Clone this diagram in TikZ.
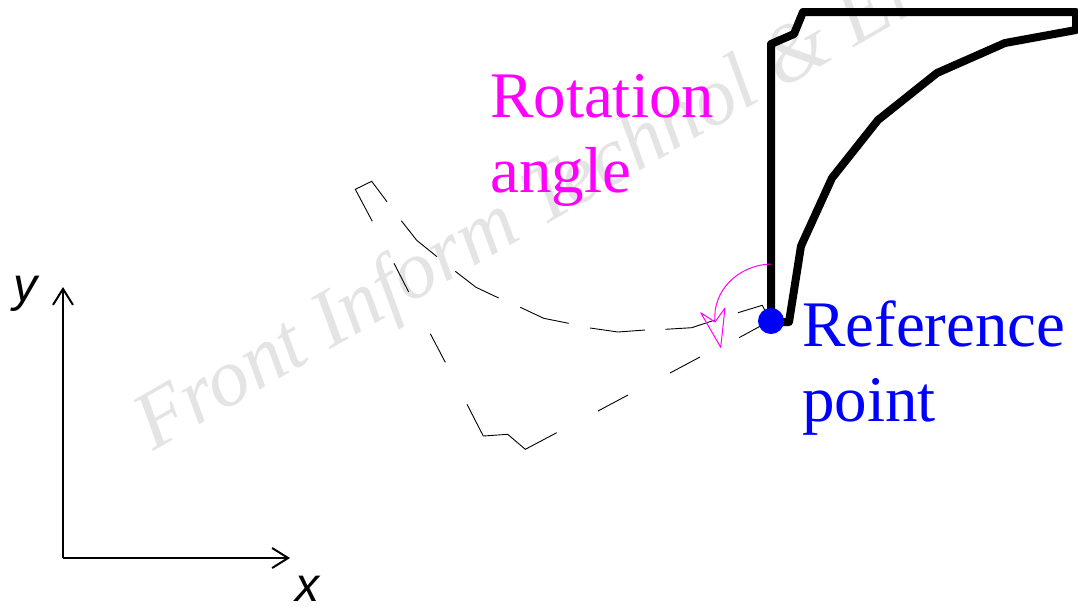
\documentclass[tikz,border=0pt]{standalone}
\usepackage{fontspec}
\setmainfont{Liberation Serif}
\newfontfamily\axisfont{Liberation Sans}
\usetikzlibrary{arrows.meta,positioning}
\definecolor{refblue}{RGB}{0,0,255}
\definecolor{rotmagenta}{RGB}{255,0,255}
\definecolor{wmgray}{RGB}{228,228,228}

\begin{document}
\begin{tikzpicture}[x=1pt,y=-1pt,
  profile/.style={line width=8pt, line join=round},
  oldprofile/.style={line width=0.9pt},
  rotline/.style={rotmagenta, line width=1pt},
  axisline/.style={line width=2pt, -{Straight Barb[length=16pt,width=20pt,line width=2pt]}},
  biglabel/.style={font=\fontsize{65}{75}\selectfont, align=left, inner sep=0pt, anchor=north west},
  axislabel/.style={font=\axisfont\itshape\fontsize{48}{48}\selectfont, inner sep=0pt}]
\useasboundingbox (0,0) rectangle (1078,606);
% watermark
\node[font=\itshape\fontsize{82}{82}\selectfont, text=wmgray, rotate=30, anchor=base west, inner sep=0pt] (wmark) at (153,452) {Front Inform Technol \& El};
% axes
\coordinate (origin) at (63,558);
\coordinate (ytip) at (63,287);
\coordinate (xtip) at (290,558);
\draw[axisline] (origin) -- (ytip);
\draw[axisline] (origin) -- (xtip);
\node[axislabel] (ylab) at (25,294) {y};
\node[axislabel] (xlab) at (307,589) {x};
% tool in its final position
\draw[profile] (771,322) -- (771,44) -- (794,34) -- (803,12) -- (1076,12) -- (1076,30) -- (1005,43) -- (937,73) -- (878,120) -- (832,178) -- (801,246) -- (789,322) -- (771,322);
% tool before rotation
\draw[oldprofile] (372.3,221.3) -- (355.3,189.3) -- (371.7,181.3) -- (387,201.7);
\draw[oldprofile] (401.3,220.7) -- (416.7,240.3) -- (437,256.7);
\draw[oldprofile] (455.3,271.3) -- (476,287.3) -- (498.7,298);
\draw[oldprofile] (520.3,307.3) -- (543.7,318.3) -- (568.7,323.3);
\draw[oldprofile] (590,328) -- (618,332) -- (645,330);
\draw[oldprofile] (665.3,329.3) -- (691.7,327.7) -- (715,320);
\draw[oldprofile] (738,312.7) -- (762.3,305.3) -- (770.3,320.7) -- (739,337.7);
\draw[oldprofile] (394,263.3) -- (408.7,292);
\draw[oldprofile] (430.3,333.7) -- (445.3,362.3);
\draw[oldprofile] (467,404.3) -- (483.3,436) -- (507.7,434.3) -- (525.3,449.3) -- (556.7,432.7);
\draw[oldprofile] (598,411) -- (628,395);
\draw[oldprofile] (670,373) -- (700,357);
% rotation
\draw[rotline] (771,264) .. controls (738,265) and (712,291) .. (715,322);
\draw[rotline, line join=round] (715,322) -- (725,308) -- (720.7,347.3) -- (700.7,312.7) -- cycle;
% reference point
\node[circle, fill=refblue, minimum size=26pt, inner sep=0pt] (refpt) at (771,321) {};
\node[biglabel, text=refblue] (reflab) at (802,301) {Reference\\point};
\node[biglabel, text=rotmagenta] (rotlab) at (490,74) {Rotation\\angle};
\end{tikzpicture}
\end{document}
